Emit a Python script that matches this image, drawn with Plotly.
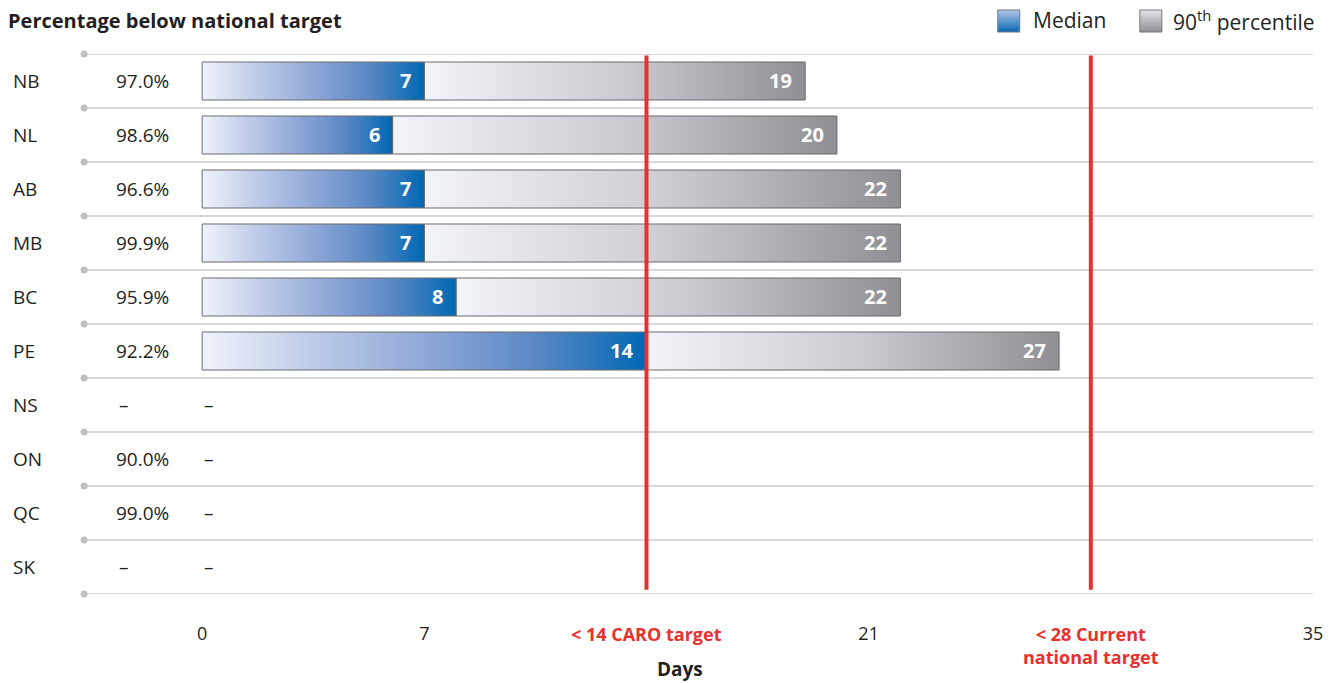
import plotly.graph_objects as go

# ---------------- data ----------------
provinces = ["NB", "NL", "AB", "MB", "BC", "PE", "NS", "ON", "QC", "SK"]
pct_below = ["97.0%", "98.6%", "96.6%", "99.9%", "95.9%", "92.2%", "–", "90.0%", "99.0%", "–"]
median_days = [7, 6, 7, 7, 8, 14, None, None, None, None]
p90_days = [19, 20, 22, 22, 22, 27, None, None, None, None]
tick_vals = [0, 7, 21, 35]
tick_text = ["0", "7", "21", "35"]
targets = [14, 28]
target_labels = ["< 14 CARO target", "< 28 Current<br>national target"]

# ---------------- layout constants ----------------
RW, RH = 1333, 683                       # reference picture size
W, H = 1344, 683                         # figure size (viewport is captured slightly wider)
PL, PR, PT, PB = 84, 1312, 54, 594      # plot area in reference pixels
X0PX = 202                               # reference pixel of x = 0
XMAX = 35
ppd = (PR - X0PX) / XMAX
XMIN = -(X0PX - PL) / ppd
FONT = "Open Sans"
TXT = "#231f20"
RED = "#e8312f"
HALF = 0.352


def px(x):
    return x / RW


def py(y):
    return 1 - y / RH


fig = go.Figure()

n = len(provinces)
blue_scale = [[0, "#f0f3fb"], [0.25, "#bdcbe8"], [0.5, "#8fa8d7"], [0.75, "#5b88c5"], [1, "#0068b3"]]
gray_scale = [[0, "#f1f4f9"], [0.5, "#cdced3"], [1, "#8f8f94"]]

for i, (m, p) in enumerate(zip(median_days, p90_days)):
    if m is None:
        continue
    y0, y1 = i - HALF, i + HALF
    fig.add_trace(go.Scatter(
        x=[m, p, p, m, m], y=[y0, y0, y1, y1, y0], mode="lines",
        fill="toself", fillgradient=dict(type="horizontal", colorscale=gray_scale),
        line=dict(color="#6b6b6e", width=1), hoverinfo="skip", showlegend=False,
        xaxis="x", yaxis="y"))
    fig.add_trace(go.Scatter(
        x=[0, m, m, 0, 0], y=[y0, y0, y1, y1, y0], mode="lines",
        fill="toself", fillgradient=dict(type="horizontal", colorscale=blue_scale),
        line=dict(color="#6b6b6e", width=1), hoverinfo="skip", showlegend=False,
        xaxis="x", yaxis="y"))

# gridlines with dots
bounds = [i - 0.5 for i in range(n + 1)]
shapes = []
for b in bounds:
    shapes.append(dict(type="line", xref="x", yref="y", x0=XMIN, x1=XMAX, y0=b, y1=b,
                       line=dict(color="#cbcbcd", width=1.5), layer="below"))
fig.add_trace(go.Scatter(x=[XMIN] * len(bounds), y=bounds, mode="markers",
                         marker=dict(color="#bfbfc2", size=7), cliponaxis=False,
                         hoverinfo="skip", showlegend=False, xaxis="x", yaxis="y"))

# target lines
for t in targets:
    shapes.append(dict(type="line", xref="x", yref="y", x0=t, x1=t, y0=-0.47, y1=9.42,
                       line=dict(color=RED, width=4), layer="above"))

annotations = []
for i, (m, p) in enumerate(zip(median_days, p90_days)):
    if m is None:
        annotations.append(dict(x=0, y=i, xref="x", yref="y", text="–", showarrow=False,
                                xanchor="left", font=dict(family=FONT, size=19, color=TXT)))
        continue
    annotations.append(dict(x=m, y=i, xref="x", yref="y", text=f"<b>{m}</b>", showarrow=False,
                            xanchor="right", xshift=-11,
                            font=dict(family=FONT, size=20, color="white")))
    annotations.append(dict(x=p, y=i, xref="x", yref="y", text=f"<b>{p}</b>", showarrow=False,
                            xanchor="right", xshift=-11,
                            font=dict(family=FONT, size=20, color="white")))

# row labels
for i, (prov, pc) in enumerate(zip(provinces, pct_below)):
    annotations.append(dict(x=px(11), y=i, xref="paper", yref="y", text=prov, showarrow=False,
                            xanchor="left", font=dict(family=FONT, size=19, color=TXT)))
    xx = 114 if pc != "–" else 117
    annotations.append(dict(x=px(xx), y=i, xref="paper", yref="y", text=pc, showarrow=False,
                            xanchor="left", font=dict(family=FONT, size=19, color=TXT)))

# target labels
for t, lab in zip(targets, target_labels):
    annotations.append(dict(x=t, y=py(620), xref="x", yref="paper", text=f"<b>{lab}</b>",
                            showarrow=False, xanchor="center", yanchor="top",
                            font=dict(family=FONT, size=18, color=RED)))

# title and axis title
annotations.append(dict(x=px(6), y=py(20), xref="paper", yref="paper",
                        text="<b>Percentage below national target</b>", showarrow=False,
                        xanchor="left", yanchor="middle", font=dict(family=FONT, size=20, color=TXT)))
annotations.append(dict(x=px(679), y=py(669), xref="paper", yref="paper", text="<b>Days</b>",
                        showarrow=False, xanchor="center", yanchor="middle",
                        font=dict(family=FONT, size=19, color=TXT)))

# legend (manual, in reference-pixel axes x2/y2)
leg = [("Median", 997, 1030, [[0, "#0a68b2"], [1, "#b3c6e7"]]),
       ("90<sup>th</sup> percentile", 1139, 1170, [[0, "#8e8e92"], [1, "#e4e5ea"]])]
for name, sx, tx, cs in leg:
    fig.add_trace(go.Scatter(
        x=[sx, sx + 22, sx + 22, sx, sx], y=[10, 10, 32, 32, 10], mode="lines",
        fill="toself", fillgradient=dict(type="vertical", colorscale=cs),
        line=dict(color="#77777a", width=1), hoverinfo="skip", showlegend=False,
        xaxis="x2", yaxis="y2"))
    annotations.append(dict(x=px(tx), y=py(20), xref="paper", yref="paper", text=name,
                            showarrow=False, xanchor="left", yanchor="middle",
                            font=dict(family=FONT, size=21, color=TXT)))

fig.update_layout(
    width=W, height=H,
    margin=dict(l=0, r=0, t=0, b=0),
    paper_bgcolor="white", plot_bgcolor="rgba(0,0,0,0)",
    showlegend=False,
    xaxis=dict(domain=[PL / RW, PR / RW], range=[XMIN, XMAX], showgrid=False,
               zeroline=False, showline=False, tickvals=tick_vals, ticktext=tick_text, ticks="",
               ticklabelstandoff=27, tickfont=dict(family=FONT, size=18, color=TXT)),
    yaxis=dict(domain=[1 - PB / RH, 1 - PT / RH], range=[n - 0.5, -0.5],
               showgrid=False, zeroline=False, showline=False, showticklabels=False),
    xaxis2=dict(domain=[0, 1], range=[0, RW], visible=False, anchor="y2"),
    yaxis2=dict(domain=[0, 1], range=[RH, 0], visible=False, anchor="x2"),
    shapes=shapes, annotations=annotations,
)

fig.write_html(
    "out.html",
    config={"displayModeBar": False},
    post_script="document.body.style.margin='0';document.body.style.overflow='hidden';",
)
